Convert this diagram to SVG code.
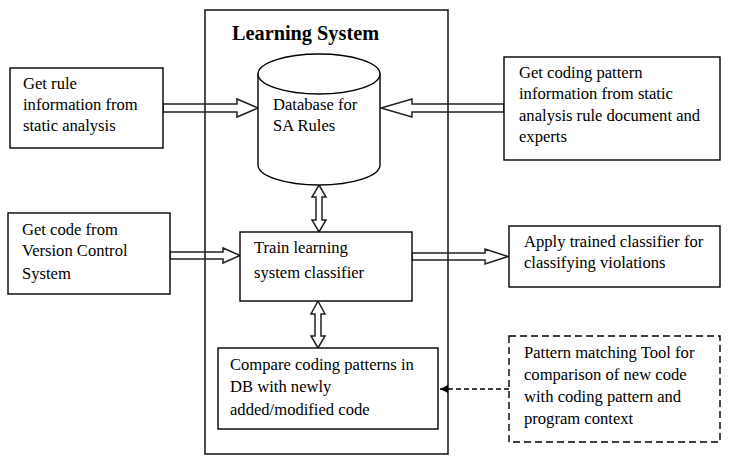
<svg xmlns="http://www.w3.org/2000/svg" width="732" height="464" viewBox="0 0 732 464">
<style>
.box{fill:#fff;stroke:#000;stroke-width:1.4}
.frame{fill:none;stroke:#000;stroke-width:1.4}
.dash{fill:#fff;stroke:#000;stroke-width:1.4;stroke-dasharray:7 4}
.arr{fill:none;stroke:#222;stroke-width:1.5;stroke-linejoin:miter}
.t{font-family:"Liberation Serif","Times New Roman",serif;font-size:16.6px;fill:#000}
.title{font-family:"Liberation Serif","Times New Roman",serif;font-size:20.3px;font-weight:bold;fill:#000}
</style>
<defs>
<marker id="solid" viewBox="0 0 10 10" refX="10" refY="5" markerWidth="8" markerHeight="8" markerUnits="userSpaceOnUse" orient="auto">
<path d="M0,0 L10,5 L0,10 z" fill="#000"/>
</marker>
</defs>
<rect width="732" height="464" fill="#fff"/>
<g id="learning-system">
<rect class="frame" x="205" y="10" width="243" height="444"/>
<text class="title" x="232" y="40">Learning System</text>
</g>
<g id="connectors">
<polygon class="arr" points="163,104 237,104 237,99 258,108 237,117 237,112 163,112"/>
<polygon class="arr" points="504,104 412,104 412,99 381,108 412,117 412,112 504,112"/>
<polygon class="arr" points="319,185 326,197 322,197 322,220 326,220 319,232 312,220 316,220 316,197 312,197"/>
<polygon class="arr" points="170,252 223,252 223,248 240,255.5 223,263 223,259 170,259"/>
<polygon class="arr" points="412,253 485,253 485,249 508,256.5 485,264 485,260 412,260"/>
<polygon class="arr" points="318,301 325,314 321,314 321,336 325,336 318,348 311,336 315,336 315,314 311,314"/>
<line x1="509" y1="389" x2="440" y2="389" stroke="#000" stroke-width="1.3" stroke-dasharray="5 3" marker-end="url(#solid)"/>
</g>
<g id="rule-info">
<rect class="box" x="10" y="68" width="153" height="80"/>
<text class="t" x="23" y="89">Get rule</text>
<text class="t" x="23" y="110">information from</text>
<text class="t" x="23" y="131">static analysis</text>
</g>
<g id="database">
<path class="box" d="M258,74 L258,165 A61,20 0 0 0 380,165 L380,74 A61,20 0 0 0 258,74 Z"/>
<path class="box" d="M258,74 A61,20 0 0 0 380,74"/>
<text class="t" x="273" y="110">Database for</text>
<text class="t" x="273" y="131">SA Rules</text>
</g>
<g id="coding-pattern-info">
<rect class="box" x="504" y="57" width="216" height="103"/>
<text class="t" x="519" y="78">Get coding pattern</text>
<text class="t" x="519" y="99">information from static</text>
<text class="t" x="519" y="121">analysis rule document and</text>
<text class="t" x="519" y="142">experts</text>
</g>
<g id="version-control">
<rect class="box" x="8" y="213" width="162" height="81"/>
<text class="t" x="22" y="235">Get code from</text>
<text class="t" x="22" y="256">Version Control</text>
<text class="t" x="22" y="279">System</text>
</g>
<g id="train">
<rect class="box" x="240" y="232" width="172" height="69"/>
<text class="t" x="254" y="253">Train learning</text>
<text class="t" x="254" y="278">system classifier</text>
</g>
<g id="apply">
<rect class="box" x="509" y="226" width="211" height="61"/>
<text class="t" x="524" y="247">Apply trained classifier for</text>
<text class="t" x="524" y="268">classifying violations</text>
</g>
<g id="compare">
<rect class="box" x="218" y="348" width="220" height="81"/>
<text class="t" x="230" y="370">Compare coding patterns in</text>
<text class="t" x="230" y="392">DB with newly</text>
<text class="t" x="230" y="415">added/modified code</text>
</g>
<g id="pattern-tool">
<rect class="dash" x="509" y="336" width="211" height="106"/>
<text class="t" x="524" y="358">Pattern matching Tool for</text>
<text class="t" x="524" y="380">comparison of new code</text>
<text class="t" x="524" y="402">with coding pattern and</text>
<text class="t" x="524" y="424">program context</text>
</g>
</svg>
